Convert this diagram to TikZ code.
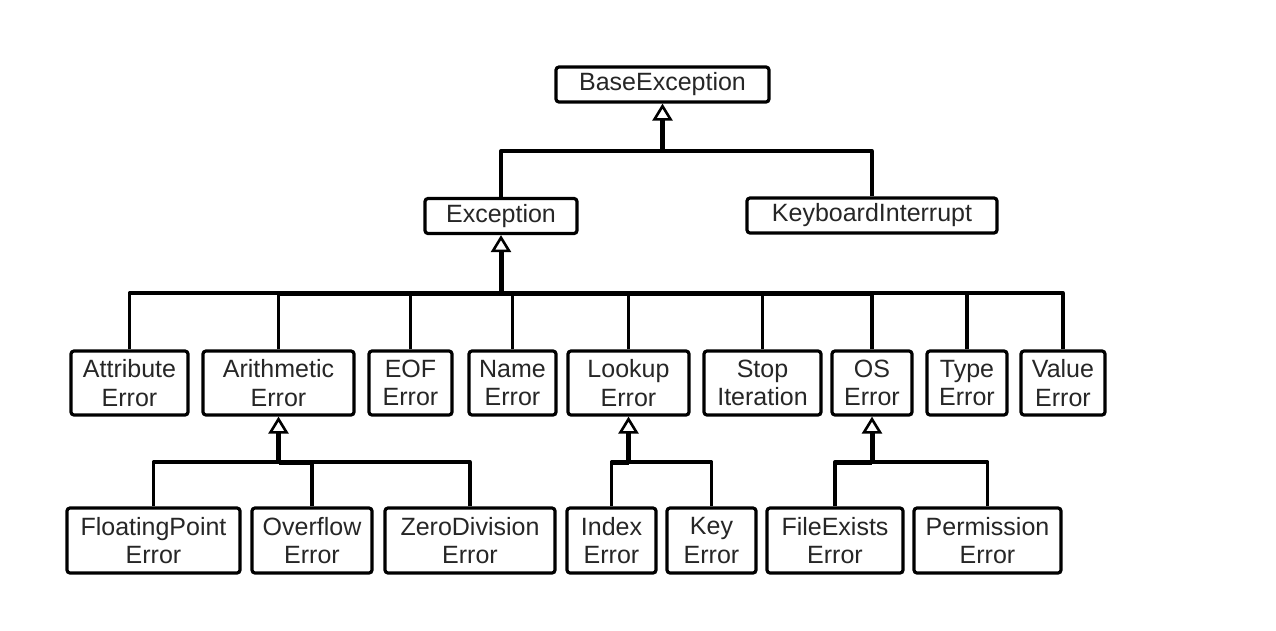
\documentclass[tikz,border=0pt]{standalone}
\usepackage{fontspec}
\setmainfont{Liberation Sans}
\usetikzlibrary{arrows.meta}
\begin{document}
\begin{tikzpicture}[x=1pt,y=-1pt,
  cls/.style={draw, line width=3.2pt, rounded corners=3pt, fill=white, inner sep=0pt, align=center,
    font=\fontsize{25}{28.5}\selectfont, text=black!85},
  one/.style={cls, minimum height=35pt},
  two/.style={cls, minimum height=64pt},
  thinln/.style={line width=3.3pt, line join=round},
  thickln/.style={line width=5pt, line join=round},
  gen/.style={thickln, -{Triangle[open, length=17pt, width=20pt, line width=2.6pt]}}
]
\useasboundingbox[fill=white] (0,0) rectangle (1276,630);

% level 0
\node[one, minimum width=213pt] (base) at (662.5,84.5) {BaseException};
% level 1
\node[one, minimum width=152pt] (exc) at (501,216) {Exception};
\node[one, minimum width=250pt] (kbd) at (872,215.5) {KeyboardInterrupt};
% level 2
\node[two, minimum width=117pt] (attr) at (129.5,383) {Attribute\\Error};
\node[two, minimum width=151pt] (arith) at (278.5,383) {Arithmetic\\Error};
\node[two, minimum width=83pt] (eof) at (410.5,383) {EOF\\Error};
\node[two, minimum width=87pt] (name) at (512.5,383) {Name\\Error};
\node[two, minimum width=121pt] (look) at (628.5,383) {Lookup\\Error};
\node[two, minimum width=117pt] (stop) at (762.5,383) {Stop\\Iteration};
\node[two, minimum width=80pt] (os) at (872,383) {OS\\Error};
\node[two, minimum width=80pt] (type) at (967,383) {Type\\Error};
\node[two, minimum width=84pt] (value) at (1063,383) {Value\\Error};
% level 3
\node[two, minimum width=173pt, minimum height=65pt] (float) at (153.5,540.5) {FloatingPoint\\Error};
\node[two, minimum width=120pt, minimum height=65pt] (over) at (312,540.5) {Overflow\\Error};
\node[two, minimum width=170pt, minimum height=65pt] (zero) at (470,540.5) {ZeroDivision\\Error};
\node[two, minimum width=89pt, minimum height=65pt] (index) at (611.5,540.5) {Index\\Error};
\node[two, minimum width=89pt, minimum height=65pt] (key) at (711.5,540.5) {Key\\Error};
\node[two, minimum width=136pt, minimum height=65pt] (fexist) at (835,540.5) {FileExists\\Error};
\node[two, minimum width=147pt, minimum height=65pt] (perm) at (987.5,540.5) {Permission\\Error};

% junctions
\coordinate (jbase) at (662.5,151);
\coordinate (jexc) at (501,293);
\coordinate (jarith) at (278.5,462);
\coordinate (jlook) at (628.5,462);
\coordinate (jos) at (872,462);

% BaseException children
\draw[thinln] (exc.north) |- (jbase);
\draw[thinln] (kbd.north) |- (jbase);
\draw[gen] (jbase) -- (base.south);

% Exception children
\foreach \c in {attr,arith,eof,name,look,stop,os,type,value}
  \draw[thinln] (\c.north) |- (jexc);
\draw[thickln] (arith.north |- jexc) -- (os.north |- jexc);
\draw[gen] (jexc) -- (exc.south);

% ArithmeticError children
\foreach \c in {float,over,zero}
  \draw[thinln] (\c.north) |- (jarith);
\draw[thickln] (jarith) -- (over.north |- jarith);
\draw[gen] (jarith) -- (arith.south);

% LookupError children
\foreach \c in {index,key}
  \draw[thinln] (\c.north) |- (jlook);
\draw[thickln] (index.north |- jlook) -- (jlook);
\draw[gen] (jlook) -- (look.south);

% OSError children
\foreach \c in {fexist,perm}
  \draw[thinln] (\c.north) |- (jos);
\draw[thickln] (fexist.north |- jos) -- (jos);
\draw[gen] (jos) -- (os.south);
\end{tikzpicture}
\end{document}
